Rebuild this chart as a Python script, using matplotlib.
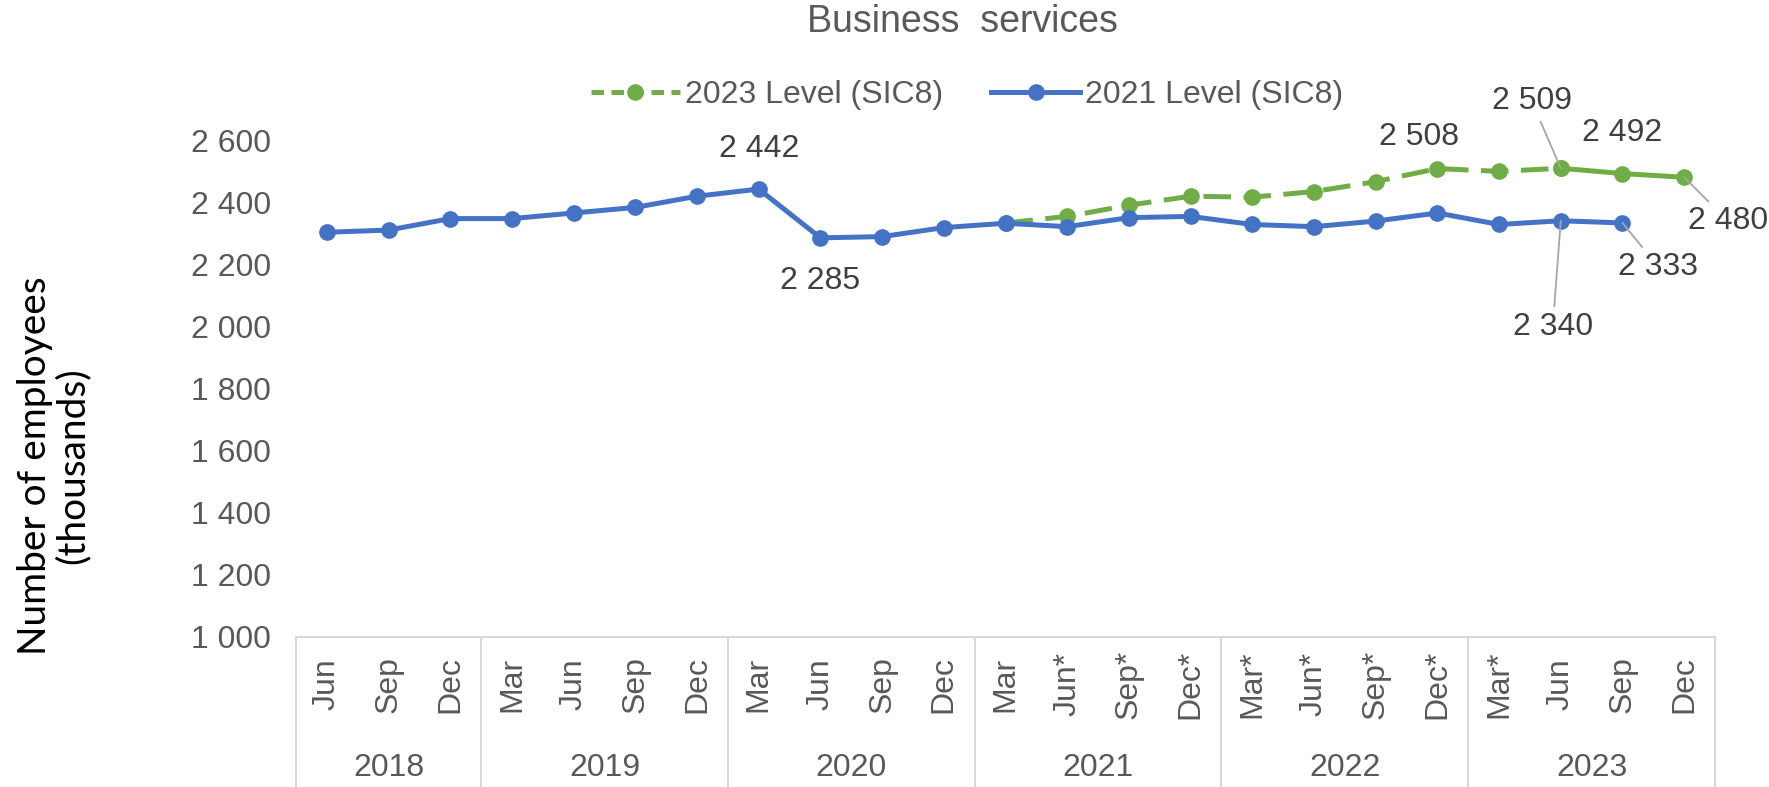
import matplotlib
matplotlib.use("Agg")
import matplotlib.pyplot as plt
import matplotlib.transforms as mtransforms
from matplotlib.ticker import FuncFormatter
from matplotlib.lines import Line2D

plt.rcParams["font.family"] = ["Liberation Sans", "DejaVu Sans"]

YEARS = ["2018", "2019", "2020", "2021", "2022", "2023"]
MONTHS = [
    ["Jun", "Sep", "Dec"],
    ["Mar", "Jun", "Sep", "Dec"],
    ["Mar", "Jun", "Sep", "Dec"],
    ["Mar", "Jun*", "Sep*", "Dec*"],
    ["Mar*", "Jun*", "Sep*", "Dec*"],
    ["Mar*", "Jun", "Sep", "Dec"],
]

# 2021 level (SIC8), Jun 2018 .. Sep 2023
LEVEL_2021 = [2303, 2310, 2347, 2347, 2365, 2383, 2419, 2442, 2285, 2289, 2318,
              2332, 2321, 2350, 2354, 2328, 2321, 2339, 2365, 2328, 2340, 2333]
# 2023 level (SIC8), Mar 2021 .. Dec 2023
LEVEL_2023 = [2333, 2354, 2390, 2419, 2416, 2434, 2466, 2508, 2499, 2509, 2492, 2480]
START_2023 = 11   # index of Mar 2021
SOLID_FROM = 20   # index of Jun 2023 (solid after this)

BLUE = "#4472C4"
GREEN = "#70AD47"
TXT = "#595959"
LBL = "#404040"
GRID = "#D9D9D9"
FS = 23

n_cat = sum(len(m) for m in MONTHS)
x_all = list(range(n_cat))

fig = plt.figure(figsize=(17.69, 7.87), dpi=100)
ax = fig.add_axes([296 / 1769, 1 - 637 / 787, 1419 / 1769, 497 / 787])

# green series: dashed part then solid part
x23 = x_all[START_2023:START_2023 + len(LEVEL_2023)]
k = SOLID_FROM - START_2023
ax.plot(x23[:k + 1], LEVEL_2023[:k + 1], color=GREEN, lw=3.6,
        linestyle=(0, (5.5, 2.5)), marker="o", ms=11, zorder=2)
ax.plot(x23[k:], LEVEL_2023[k:], color=GREEN, lw=3.6, marker="o", ms=11, zorder=2)

x21 = x_all[:len(LEVEL_2021)]
ax.plot(x21, LEVEL_2021, color=BLUE, lw=3.6, marker="o", ms=11, zorder=3)

ax.set_xlim(-0.5, n_cat - 0.5)
ax.set_ylim(1000, 2600)
ax.set_yticks(range(1000, 2601, 200))
ax.yaxis.set_major_formatter(FuncFormatter(lambda v, p: f"{int(v):,}".replace(",", " ")))
ax.tick_params(axis="y", length=0, pad=18, labelsize=FS, labelcolor=TXT)
ax.set_xticks([])
for s in ["top", "right", "left"]:
    ax.spines[s].set_visible(False)
ax.spines["bottom"].set_color(GRID)
ax.spines["bottom"].set_linewidth(1.5)

# multi-level category axis
trans = mtransforms.blended_transform_factory(ax.transData, ax.transAxes)
pos = 0
bounds = [-0.5]
for year, months in zip(YEARS, MONTHS):
    for j, m in enumerate(months):
        ax.text(pos + j, -0.095, m, transform=trans, rotation=90, ha="center",
                va="center", fontsize=FS, color=TXT, clip_on=False)
    ax.text(pos + (len(months) - 1) / 2, -0.263, year, transform=trans,
            ha="center", va="center", fontsize=FS, color=TXT, clip_on=False)
    pos += len(months)
    bounds.append(pos - 0.5)
for b in bounds:
    ax.plot([b, b], [0, -0.32], transform=trans, color=GRID, lw=1.5, clip_on=False)

# data labels
lab = dict(textcoords="offset pixels", ha="center", va="center", fontsize=FS,
           color=LBL, annotation_clip=False)
lead = dict(arrowstyle="-", color="#A6A6A6", lw=1.3, shrinkA=2, shrinkB=0)

def fmt(v):
    return f"{v:,}".replace(",", " ")

ax.annotate(fmt(LEVEL_2021[7]), (7, LEVEL_2021[7]), xytext=(0, 40), **lab)
ax.annotate(fmt(LEVEL_2021[8]), (8, LEVEL_2021[8]), xytext=(0, -43), **lab)
i = 18 - START_2023
ax.annotate(fmt(LEVEL_2023[i]), (18, LEVEL_2023[i]), xytext=(-18, 32), **lab)
i = 20 - START_2023
ax.annotate(fmt(LEVEL_2023[i]), (20, LEVEL_2023[i]), xytext=(-29, 67),
            arrowprops=lead, **lab)
i = 21 - START_2023
ax.annotate(fmt(LEVEL_2023[i]), (21, LEVEL_2023[i]), xytext=(0, 41), **lab)
i = 22 - START_2023
ax.annotate(fmt(LEVEL_2023[i]), (22, LEVEL_2023[i]), xytext=(44, -44),
            arrowprops=lead, **lab)
ax.annotate(fmt(LEVEL_2021[21]), (21, LEVEL_2021[21]), xytext=(36, -44),
            arrowprops=lead, **lab)
ax.annotate(fmt(LEVEL_2021[20]), (20, LEVEL_2021[20]), xytext=(-8, -106),
            arrowprops=lead, **lab)

# title, legend, y label
fig.text(962 / 1769, 1 - 22 / 787, "Business  services", ha="center", va="center",
         fontsize=27, color=TXT)
handles = [
    Line2D([], [], color=GREEN, lw=3.6, linestyle=(0, (2.5, 1.5)), marker="o", ms=11),
    Line2D([], [], color=BLUE, lw=3.6, marker="o", ms=11),
]
fig.legend(handles, ["2023 Level (SIC8)", "2021 Level (SIC8)"], loc="center",
           bbox_to_anchor=(967 / 1769, 1 - 95 / 787), ncol=2, frameon=False,
           fontsize=FS, labelcolor=TXT, handlelength=2.8, handletextpad=0.15,
           columnspacing=1.5)
fig.text(54 / 1769, 1 - 466 / 787, "Number of employees\n(thousands)", rotation=90,
         ha="center", va="center", multialignment="center", fontsize=28,
         color="black", family=["Lato", "DejaVu Sans"], linespacing=1.05)

fig.savefig("out.png", dpi=100)
